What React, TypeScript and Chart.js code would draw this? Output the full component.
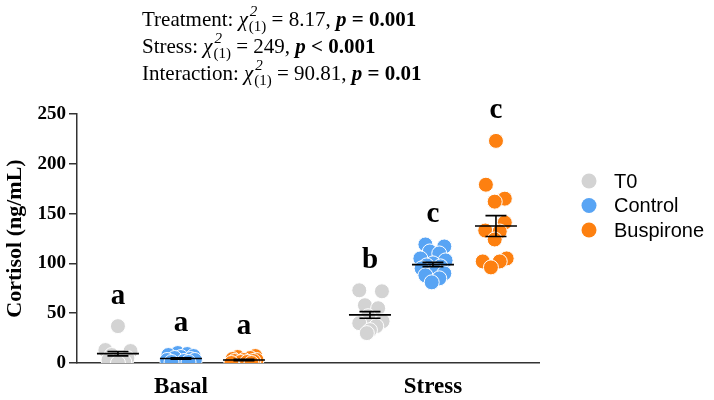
import React, { useEffect, useRef } from 'react';
import { Chart, registerables } from 'chart.js';

Chart.register(...registerables);

// ---------- data ----------
const GROUPS = ['Basal', 'Stress'];
const GROUP_CENTERS = [1, 5];
const TREATMENTS = ['T0', 'Control', 'Buspirone'];
const COLORS = ['#d3d3d3', '#58a4f4', '#fd8010'];

const T0_BASAL = [37, 13, 12, 8, 5, 3, 1, 0];
const T0_BASAL_JITTER = [0, -0.2, 0.2, -0.1, 0.15, -0.15, 0.1, 0];
const CONTROL_BASAL = [10, 9, 8, 7, 6, 5, 4, 3, 3, 2, 1, 1];
const CONTROL_BASAL_JITTER = [-0.05, 0.1, -0.2, 0.2, 0, -0.1, 0.15, -0.22, 0.22, 0.05, -0.15, 0.12];
const BUSPIRONE_BASAL = [7, 6, 5, 4, 3, 3, 2, 2, 1, 1, 0, 0];
const BUSPIRONE_BASAL_JITTER = [0.18, -0.1, 0.1, -0.18, 0.2, 0, -0.15, 0.15, -0.05, 0.05, -0.2, 0.12];

const T0_STRESS = [73, 72, 58, 55, 47, 42, 40, 37, 33, 30];
const T0_STRESS_JITTER = [-0.17, 0.19, -0.08, 0.13, -0.03, 0.2, -0.17, 0.1, 0, -0.05];
const CONTROL_STRESS = [119, 117, 112, 110, 105, 103, 100, 98, 97, 95, 92, 90, 88, 85, 81];
const CONTROL_STRESS_JITTER = [-0.12, 0.18, -0.05, 0.1, -0.2, 0.2, 0.0, -0.1, 0.12, -0.18, 0.05, 0.18, -0.12, 0.1, -0.02];
const BUSPIRONE_STRESS = [223, 179, 165, 162, 141, 133, 132, 124, 105, 102, 102, 96];
const BUSPIRONE_STRESS_JITTER = [0, -0.16, 0.14, -0.02, 0.14, -0.17, 0.06, -0.02, 0.17, 0.06, -0.21, -0.08];

const MEAN_BASAL = [9.4, 4.5, 3.0];
const SEM_BASAL = [2.2, 0.7, 0.6];
const MEAN_STRESS = [48.3, 98.8, 137.5];
const SEM_STRESS = [3.3, 2.2, 10.5];

const LETTERS_BASAL = ['a', 'a', 'a'];
const LETTERS_STRESS = ['b', 'c', 'c'];

const Y_TICKS = [0, 50, 100, 150, 200, 250];
const Y_TITLE = 'Cortisol (ng/mL)';

const HEADER_LABELS = ['Treatment: ', 'Stress: ', 'Interaction: '];
const HEADER_STATS = ['8.17', '249', '90.81'];
const HEADER_P_SIGNS = ['=', '<', '='];
const HEADER_P_VALUES = ['0.001', '0.001', '0.01'];

// ---------- helpers ----------
const SERIF = "'Liberation Serif', 'Times New Roman', serif";
const SANS = "'Liberation Sans', Arial, sans-serif";

const valuesByTreatment = [
  [T0_BASAL, T0_STRESS],
  [CONTROL_BASAL, CONTROL_STRESS],
  [BUSPIRONE_BASAL, BUSPIRONE_STRESS],
];
const jitterByTreatment = [
  [T0_BASAL_JITTER, T0_STRESS_JITTER],
  [CONTROL_BASAL_JITTER, CONTROL_STRESS_JITTER],
  [BUSPIRONE_BASAL_JITTER, BUSPIRONE_STRESS_JITTER],
];
const means = [MEAN_BASAL, MEAN_STRESS];
const sems = [SEM_BASAL, SEM_STRESS];
const letters = [LETTERS_BASAL, LETTERS_STRESS];

function buildPoints(t: number) {
  const pts: { x: number; y: number }[] = [];
  for (let g = 0; g < GROUPS.length; g++) {
    const vals = valuesByTreatment[t][g];
    const jit = jitterByTreatment[t][g];
    vals.forEach((v, i) => pts.push({ x: GROUP_CENTERS[g] + (t - 1) + jit[i], y: v }));
  }
  return pts;
}

const overlayPlugin = {
  id: 'overlay',
  afterDatasetsDraw(chart: any) {
    const { ctx } = chart;
    const xs = chart.scales.x;
    const ys = chart.scales.y;
    ctx.save();
    // mean +/- SEM
    ctx.strokeStyle = '#000';
    ctx.lineWidth = 1.6;
    for (let g = 0; g < GROUPS.length; g++) {
      for (let t = 0; t < TREATMENTS.length; t++) {
        const cx = xs.getPixelForValue(GROUP_CENTERS[g] + t - 1);
        const m = ys.getPixelForValue(means[g][t]);
        const hi = ys.getPixelForValue(means[g][t] + sems[g][t]);
        const lo = ys.getPixelForValue(means[g][t] - sems[g][t]);
        ctx.beginPath();
        ctx.moveTo(cx - 21, m); ctx.lineTo(cx + 21, m);
        ctx.moveTo(cx, hi); ctx.lineTo(cx, lo);
        ctx.moveTo(cx - 10.5, hi); ctx.lineTo(cx + 10.5, hi);
        ctx.moveTo(cx - 10.5, lo); ctx.lineTo(cx + 10.5, lo);
        ctx.stroke();
      }
    }
    // significance letters
    ctx.fillStyle = '#000';
    ctx.font = `bold 29px ${SERIF}`;
    ctx.textAlign = 'center';
    ctx.textBaseline = 'middle';
    for (let g = 0; g < GROUPS.length; g++) {
      for (let t = 0; t < TREATMENTS.length; t++) {
        const cx = xs.getPixelForValue(GROUP_CENTERS[g] + t - 1);
        const top = ys.getPixelForValue(Math.max(...valuesByTreatment[t][g]));
        ctx.fillText(letters[g][t], cx, top - 30);
      }
    }
    ctx.restore();
  },
  afterDraw(chart: any) {
    const { ctx } = chart;
    ctx.save();
    // header statistics
    ctx.fillStyle = '#000';
    ctx.textAlign = 'left';
    ctx.textBaseline = 'alphabetic';
    const x0 = 142;
    for (let i = 0; i < HEADER_LABELS.length; i++) {
      const base = 26 + i * 27;
      let x = x0;
      ctx.font = `21px ${SERIF}`;
      ctx.fillText(HEADER_LABELS[i], x, base);
      x += ctx.measureText(HEADER_LABELS[i]).width;
      ctx.font = `italic 21px ${SERIF}`;
      ctx.fillText('\u03C7', x, base);
      x += ctx.measureText('\u03C7').width + 1;
      ctx.font = `italic 15px ${SERIF}`;
      ctx.fillText('2', x + 1, base - 10);
      const w2 = ctx.measureText('2').width + 1;
      ctx.font = `15px ${SERIF}`;
      ctx.fillText('(1)', x, base + 5);
      const w1 = ctx.measureText('(1)').width;
      x += Math.max(w1, w2);
      ctx.font = `21px ${SERIF}`;
      const mid = ` = ${HEADER_STATS[i]}, `;
      ctx.fillText(mid, x, base);
      x += ctx.measureText(mid).width;
      ctx.font = `italic bold 21px ${SERIF}`;
      ctx.fillText('p', x, base);
      x += ctx.measureText('p').width;
      ctx.font = `bold 21px ${SERIF}`;
      ctx.fillText(` ${HEADER_P_SIGNS[i]} ${HEADER_P_VALUES[i]}`, x, base);
    }
    // legend
    ctx.font = `20px ${SANS}`;
    ctx.textBaseline = 'middle';
    chart.data.datasets.forEach((ds: any, i: number) => {
      const cy = 181 + i * 24.5;
      ctx.beginPath();
      ctx.arc(589, cy, 7.5, 0, Math.PI * 2);
      ctx.fillStyle = ds.backgroundColor;
      ctx.fill();
      ctx.fillStyle = '#000';
      ctx.fillText(ds.label, 614, cy + 1);
    });
    ctx.restore();
  },
};

export default function App() {
  const ref = useRef<HTMLCanvasElement | null>(null);
  useEffect(() => {
    document.body.style.margin = '0';
    if (!ref.current) return;
    const chart = new Chart(ref.current, {
      type: 'scatter',
      data: {
        datasets: TREATMENTS.map((name, t) => ({
          label: name,
          data: buildPoints(t),
          backgroundColor: COLORS[t],
          borderColor: '#ffffff',
          borderWidth: 1,
          pointRadius: 7.5,
        })),
      },
      options: {
        responsive: false,
        animation: false,
        layout: { padding: { top: 114, right: 175, bottom: 0, left: 0 } },
        plugins: { legend: { display: false }, tooltip: { enabled: false } },
        scales: {
          x: {
            type: 'linear',
            min: -0.65,
            max: 6.683,
            grid: { display: false },
            border: { display: true, color: '#333', width: 1.5 },
            afterBuildTicks: (scale: any) => {
              scale.ticks = GROUP_CENTERS.map((v) => ({ value: v }));
            },
            afterFit: (scale: any) => {
              scale.height = 37;
            },
            ticks: {
              autoSkip: false,
              maxRotation: 0,
              padding: 2,
              color: '#000',
              font: { family: SERIF, size: 23, weight: 'bold' },
              callback: (value: any) => GROUPS[GROUP_CENTERS.indexOf(Number(value))] ?? '',
            },
          },
          y: {
            min: 0,
            max: 250,
            afterBuildTicks: (scale: any) => {
              scale.ticks = Y_TICKS.map((v) => ({ value: v }));
            },
            afterFit: (scale: any) => {
              scale.width = 77;
            },
            grid: { display: true, drawOnChartArea: false, drawTicks: true, tickLength: 8, color: '#333', lineWidth: 1.5 },
            border: { display: true, color: '#333', width: 1.5 },
            ticks: {
              padding: 3,
              color: '#000',
              font: { family: SERIF, size: 19, weight: 'bold' },
            },
            title: {
              display: true,
              text: Y_TITLE,
              color: '#000',
              padding: { top: 2, bottom: 0 },
              font: { family: SERIF, size: 22, weight: 'bold' },
            },
          },
        },
      },
      plugins: [overlayPlugin],
    } as any);
    return () => chart.destroy();
  }, []);
  return (
    <div style={{ width: 714, height: 400, background: '#fff' }}>
      <canvas ref={ref} width={714} height={400} style={{ display: 'block' }} />
    </div>
  );
}
